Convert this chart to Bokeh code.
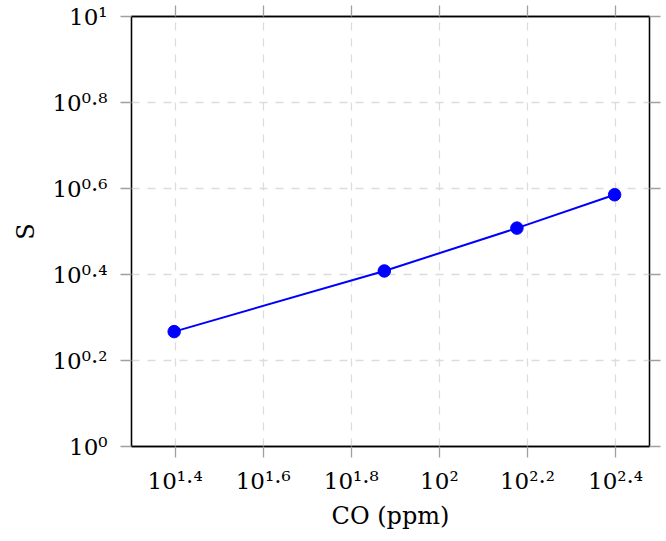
from bokeh.plotting import figure
from bokeh.models import Range1d, FixedTicker, LogAxis, CustomJSTickFormatter
from bokeh.embed import file_html
from bokeh.resources import INLINE

# ---- data ----
co_ppm = [25, 75, 150, 250]
sensitivity = [1.85, 2.56, 3.22, 3.85]

x_tick_exponents = ["1.4", "1.6", "1.8", "2", "2.2", "2.4"]
y_tick_exponents = ["0", "0.2", "0.4", "0.6", "0.8", "1"]
tick_base = "10"

x_ticks = [10 ** float(e) for e in x_tick_exponents]
y_ticks = [10 ** float(e) for e in y_tick_exponents]

X_START, X_END = 20, 300
Y_START, Y_END = 1, 10

SUP = str.maketrans("0123456789.", "⁰¹²³⁴⁵⁶⁷⁸⁹·")

def power_label(e):
    return tick_base + e.translate(SUP)

x_labels = {t: power_label(e) for t, e in zip(x_ticks, x_tick_exponents)}
y_labels = {t: power_label(e) for t, e in zip(y_ticks, y_tick_exponents)}

FONT = "DejaVu Serif"
TICK_PX = 23
LABEL_PX = 24

p = figure(width=666, height=541, x_axis_type="log", y_axis_type="log",
           x_range=Range1d(X_START, X_END), y_range=Range1d(Y_START, Y_END),
           output_backend="svg", toolbar_location=None,
           min_border_left=131, min_border_right=17,
           min_border_top=16, min_border_bottom=95)

p.outline_line_color = "black"
p.outline_line_width = 1.3
p.background_fill_color = "white"
p.border_fill_color = "white"

blank = CustomJSTickFormatter(code="return ''")

for ax, ticks, labels in ((p.xaxis[0], x_ticks, x_labels), (p.yaxis[0], y_ticks, y_labels)):
    ax.ticker = FixedTicker(ticks=ticks)
    ax.major_label_overrides = labels
    ax.major_label_text_font = FONT
    ax.major_label_text_font_size = f"{TICK_PX}px"
    ax.major_label_text_color = "black"
    ax.major_tick_in = 0
    ax.major_tick_out = 11
    ax.major_tick_line_color = "#a0a0a0"
    ax.major_tick_line_width = 1.3
    ax.minor_tick_line_color = None
    ax.axis_line_color = "black"
    ax.axis_line_width = 1.3
    ax.axis_label_text_font = FONT
    ax.axis_label_text_font_size = f"{LABEL_PX}px"
    ax.axis_label_text_font_style = "normal"
    ax.axis_label_text_color = "black"

p.xaxis.axis_label = "CO (ppm)"
p.yaxis.axis_label = "S"
p.xaxis.major_label_standoff = 10
p.yaxis.major_label_standoff = 13
p.yaxis.major_label_text_align = "right"
p.xaxis.axis_label_standoff = 5
p.yaxis.axis_label_standoff = 9

for side, ticks in (("above", x_ticks), ("right", y_ticks)):
    ax = LogAxis(ticker=FixedTicker(ticks=ticks), formatter=blank,
                 major_tick_in=0, major_tick_out=11,
                 major_tick_line_color="#a0a0a0", major_tick_line_width=1.3,
                 minor_tick_line_color=None, axis_line_color="black",
                 axis_line_width=1.3, major_label_standoff=0)
    p.add_layout(ax, side)

p.xgrid.ticker = FixedTicker(ticks=x_ticks)
p.ygrid.ticker = FixedTicker(ticks=y_ticks)
for g in (p.xgrid, p.ygrid):
    g.grid_line_color = "#dcdcdc"
    g.grid_line_width = 1.3
    g.grid_line_dash = "8 8"

p.line(co_ppm, sensitivity, line_color="#0000ff", line_width=2)
p.scatter(co_ppm, sensitivity, size=12.5, fill_color="#0000ff", line_color="#0000ff")

open("out.html", "w").write(file_html(p, INLINE))
